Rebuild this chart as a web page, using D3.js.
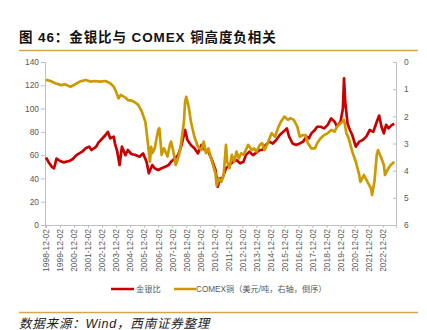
<!DOCTYPE html>
<html>
<head>
<meta charset="utf-8">
<script src="https://cdn.jsdelivr.net/npm/d3@7"></script>
<style>
  html, body { margin: 0; padding: 0; background: #fff; }
  svg { display: block; }
  .cjk { font-family: "Liberation Sans", Arial, "Noto Sans CJK SC", sans-serif; }
</style>
</head>
<body>
<svg id="chart" width="427" height="330"></svg>
<script>
// Gold/silver ratio (left axis)
const ratioDates = [
  "1998-12","1999-02","1999-05","1999-07","1999-09","1999-12","2000-03","2000-08","2000-11",
  "2001-02","2001-07","2001-10","2002-01","2002-03","2002-07","2002-09","2002-11",
  "2003-03","2003-05","2003-07","2003-10","2003-11","2004-01","2004-03","2004-05","2004-08","2004-10",
  "2005-01","2005-05","2005-08","2005-11","2006-02","2006-04","2006-07","2006-09","2006-12",
  "2007-03","2007-06","2007-09","2007-11","2008-02","2008-05","2008-08","2008-11",
  "2009-01","2009-04","2009-07","2009-10","2010-01","2010-04","2010-07","2010-10",
  "2011-01","2011-03","2011-05","2011-07","2011-10","2012-01","2012-04","2012-07","2012-10",
  "2013-01","2013-03","2013-06","2013-09","2013-11","2014-03","2014-05","2014-08","2014-11",
  "2015-02","2015-05","2015-08","2015-11","2016-02","2016-04","2016-07","2016-10",
  "2017-01","2017-04","2017-07","2017-09","2017-11","2018-02","2018-04","2018-07","2018-10",
  "2019-01","2019-04","2019-07","2019-09","2019-12","2020-02","2020-03","2020-04","2020-06",
  "2020-08","2020-10","2021-01","2021-04","2021-07","2021-10","2022-01","2022-04","2022-07",
  "2022-09","2022-11","2023-01","2023-03","2023-05","2023-08","2023-10"
];
const ratioValues = [
  58,54.4,50,48.7,57,55,53.8,55,56.7,
  60,63,65.9,67.3,64.4,67.3,71,73,
  77.3,80,74.5,75.9,70,63,51.5,67.3,60,64.4,
  61,60,58.7,61.5,54.4,44.4,51.5,48.7,47.2,
  48.7,50,51.5,54.4,57,60,68.7,81.6,
  73,68.7,65.9,61.5,68.7,64.4,63,55.8,
  47.2,32.9,40,40,48.7,51.5,54.4,55.8,53,
  54.4,60,63,60,61.5,64.4,64.4,68.7,71.6,
  70,73,77.3,80,83,75.9,70,68.7,
  70,71.6,75.9,74.5,78.7,81.6,84.4,84.4,83,
  86,91.5,88.7,84.4,88.7,100,126,106,87,
  81.6,77.3,67.3,71.6,73,75.9,81.6,80,88.7,
  94,84.4,78.7,86,83,86,87
];

// COMEX copper (right axis, reversed)
const copperDates = [
  "1998-12","1999-04","1999-08","2000-01","2000-04","2000-09","2001-01","2001-05","2001-10",
  "2002-02","2002-06","2002-10","2003-03","2003-07","2003-10","2003-12","2004-02","2004-04",
  "2004-08","2004-10","2005-01","2005-04","2005-07","2005-10","2006-01","2006-02","2006-05",
  "2006-06","2006-07","2006-09","2006-12","2007-01","2007-03","2007-05","2007-08","2007-10",
  "2007-11","2008-01","2008-03","2008-05","2008-07","2008-10","2008-11","2008-12","2009-02",
  "2009-04","2009-07","2009-10","2010-01","2010-03","2010-05","2010-07","2010-10","2011-01",
  "2011-02","2011-04","2011-06","2011-08","2011-10","2011-11","2012-01","2012-03","2012-05",
  "2012-07","2012-09","2012-11","2013-01","2013-03","2013-05","2013-08","2013-10","2013-12",
  "2014-03","2014-05","2014-07","2014-09","2015-01","2015-04","2015-07","2015-09","2015-12",
  "2016-03","2016-05","2016-08","2016-11","2017-01","2017-04","2017-06","2017-08","2017-09",
  "2017-11","2018-02","2018-04","2018-07","2018-10","2019-01","2019-04","2019-07","2019-09",
  "2019-12","2020-03","2020-05","2020-07","2020-10","2021-01","2021-04","2021-05","2021-08",
  "2021-11","2022-02","2022-03","2022-05","2022-07","2022-08","2022-11","2023-01","2023-02",
  "2023-05","2023-07","2023-10"
];
const copperValues = [
  0.66,0.70,0.78,0.85,0.82,0.91,0.82,0.72,0.66,
  0.72,0.70,0.72,0.70,0.78,0.91,1.09,1.34,1.21,
  1.31,1.40,1.42,1.48,1.58,1.83,2.20,2.56,3.67,
  3.12,3.36,3.18,2.50,2.44,3.42,3.18,3.48,3.05,
  2.93,3.30,3.79,3.55,3.18,2.20,1.46,1.28,1.64,
  2.20,2.75,3.12,3.24,2.93,3.36,3.18,3.67,4.10,
  4.55,4.28,4.41,4.16,3.05,3.67,3.91,3.42,3.67,
  3.30,3.55,3.36,3.42,3.24,3.05,3.24,3.18,3.30,
  3.05,2.99,3.24,3.05,2.62,2.75,2.38,2.20,2.01,
  2.13,2.07,2.13,2.38,2.75,2.69,2.69,2.99,3.05,
  3.18,3.18,2.99,2.81,2.69,2.62,2.50,2.56,2.38,
  2.26,2.13,2.62,2.81,3.30,3.67,4.16,4.41,4.16,
  4.41,4.65,4.90,4.41,3.42,3.24,3.55,3.79,4.16,
  3.91,3.79,3.67
];

const xTickLabels = [
  "1998-12-02","1999-12-02","2000-12-02","2001-12-02","2002-12-02","2003-12-02","2004-12-02",
  "2005-12-02","2006-12-02","2007-12-02","2008-12-02","2009-12-02","2010-12-02","2011-12-02",
  "2012-12-02","2013-12-02","2014-12-02","2015-12-02","2016-12-02","2017-12-02","2018-12-02",
  "2019-12-02","2020-12-02","2021-12-02","2022-12-02"
];
const leftTicks = [0, 20, 40, 60, 80, 100, 120, 140];
const rightTicks = [0, 1, 2, 3, 4, 5, 6];

const titleText = "图 46：金银比与 COMEX 铜高度负相关";
const legendRatio = "金银比";
const legendCopper = "COMEX铜（美元/吨，右轴，倒序）";
const sourceText = "数据来源：Wind，西南证券整理";

const RED = "#C80000";
const GOLD = "#CC9900";
const AXIS = "#BFBFBF";
const LABEL = "#595959";
const RULE = "#D9A450";

const svg = d3.select("#chart");
const parseMonth = d3.timeParse("%Y-%m");
const parseDay = d3.timeParse("%Y-%m-%d");

const plot = { left: 45, right: 396, top: 62, bottom: 225 };

const x = d3.scaleTime()
  .domain([parseDay("1998-11-06"), parseDay("2023-11-14")])
  .range([plot.left, plot.right]);
const yLeft = d3.scaleLinear().domain([0, 140]).range([plot.bottom, plot.top]);
const yRight = d3.scaleLinear().domain([0, 6]).range([plot.top, plot.bottom]);

// Title and header rule
svg.append("text")
  .attr("class", "cjk")
  .attr("x", 19).attr("y", 42)
  .attr("font-size", 13.5).attr("font-weight", "bold")
  .attr("fill", "#111")
  .attr("letter-spacing", 0.9)
  .text(titleText);
svg.append("line")
  .attr("x1", 19).attr("x2", 418).attr("y1", 50.5).attr("y2", 50.5)
  .attr("stroke", RULE).attr("stroke-width", 1.5);

// Axes
const gLeft = svg.append("g")
  .attr("transform", `translate(${plot.left},0)`)
  .call(d3.axisLeft(yLeft).tickValues(leftTicks).tickSize(4).tickPadding(2));
const gRight = svg.append("g")
  .attr("transform", `translate(${plot.right},0)`)
  .call(d3.axisRight(yRight).tickValues(rightTicks).tickFormat(d3.format("d"))
    .tickSize(-3).tickPadding(8));
const gBottom = svg.append("g")
  .attr("transform", `translate(0,${plot.bottom})`)
  .call(d3.axisBottom(x).tickValues(xTickLabels.map(parseDay))
    .tickFormat(d3.timeFormat("%Y-%m-%d")).tickSize(3).tickPadding(4));

[gLeft, gRight, gBottom].forEach(g => {
  g.select(".domain").attr("stroke", AXIS);
  g.selectAll(".tick line").attr("stroke", AXIS);
  g.selectAll(".tick text")
    .attr("fill", LABEL)
    .attr("font-size", 8.4)
    .attr("font-family", "'Liberation Sans', Arial, sans-serif");
});
gBottom.selectAll(".tick text")
  .attr("text-anchor", "end")
  .attr("transform", "rotate(-90)")
  .attr("x", -4).attr("y", 0).attr("dy", "0.33em");

// Series
const ratioData = ratioDates.map((d, i) => ({ date: parseMonth(d), value: ratioValues[i] }));
const copperData = copperDates.map((d, i) => ({ date: parseMonth(d), value: copperValues[i] }));

const ratioLine = d3.line().x(d => x(d.date)).y(d => yLeft(d.value));
const copperLine = d3.line().x(d => x(d.date)).y(d => yRight(d.value));

svg.append("path").datum(ratioData)
  .attr("d", ratioLine)
  .attr("fill", "none").attr("stroke", RED)
  .attr("stroke-width", 2.7).attr("stroke-linejoin", "round");
svg.append("path").datum(copperData)
  .attr("d", copperLine)
  .attr("fill", "none").attr("stroke", GOLD)
  .attr("stroke-width", 2.7).attr("stroke-linejoin", "round");

// Legend
const legend = svg.append("g").attr("class", "cjk").attr("font-size", 8.2).attr("fill", LABEL);
legend.append("line").attr("x1", 111).attr("x2", 134).attr("y1", 289).attr("y2", 289)
  .attr("stroke", RED).attr("stroke-width", 2.5);
legend.append("text").attr("x", 136).attr("y", 292).text(legendRatio);
legend.append("line").attr("x1", 174).attr("x2", 196).attr("y1", 289).attr("y2", 289)
  .attr("stroke", GOLD).attr("stroke-width", 2.5);
legend.append("text").attr("x", 196).attr("y", 292).text(legendCopper);

// Footer rule and source
svg.append("line")
  .attr("x1", 19).attr("x2", 418).attr("y1", 312.5).attr("y2", 312.5)
  .attr("stroke", RULE).attr("stroke-width", 1.5);
svg.append("text")
  .attr("class", "cjk")
  .attr("x", 19).attr("y", 328)
  .attr("font-size", 12.5).attr("font-style", "italic")
  .attr("fill", "#222")
  .attr("letter-spacing", 0.8)
  .text(sourceText);
</script>
</body>
</html>
